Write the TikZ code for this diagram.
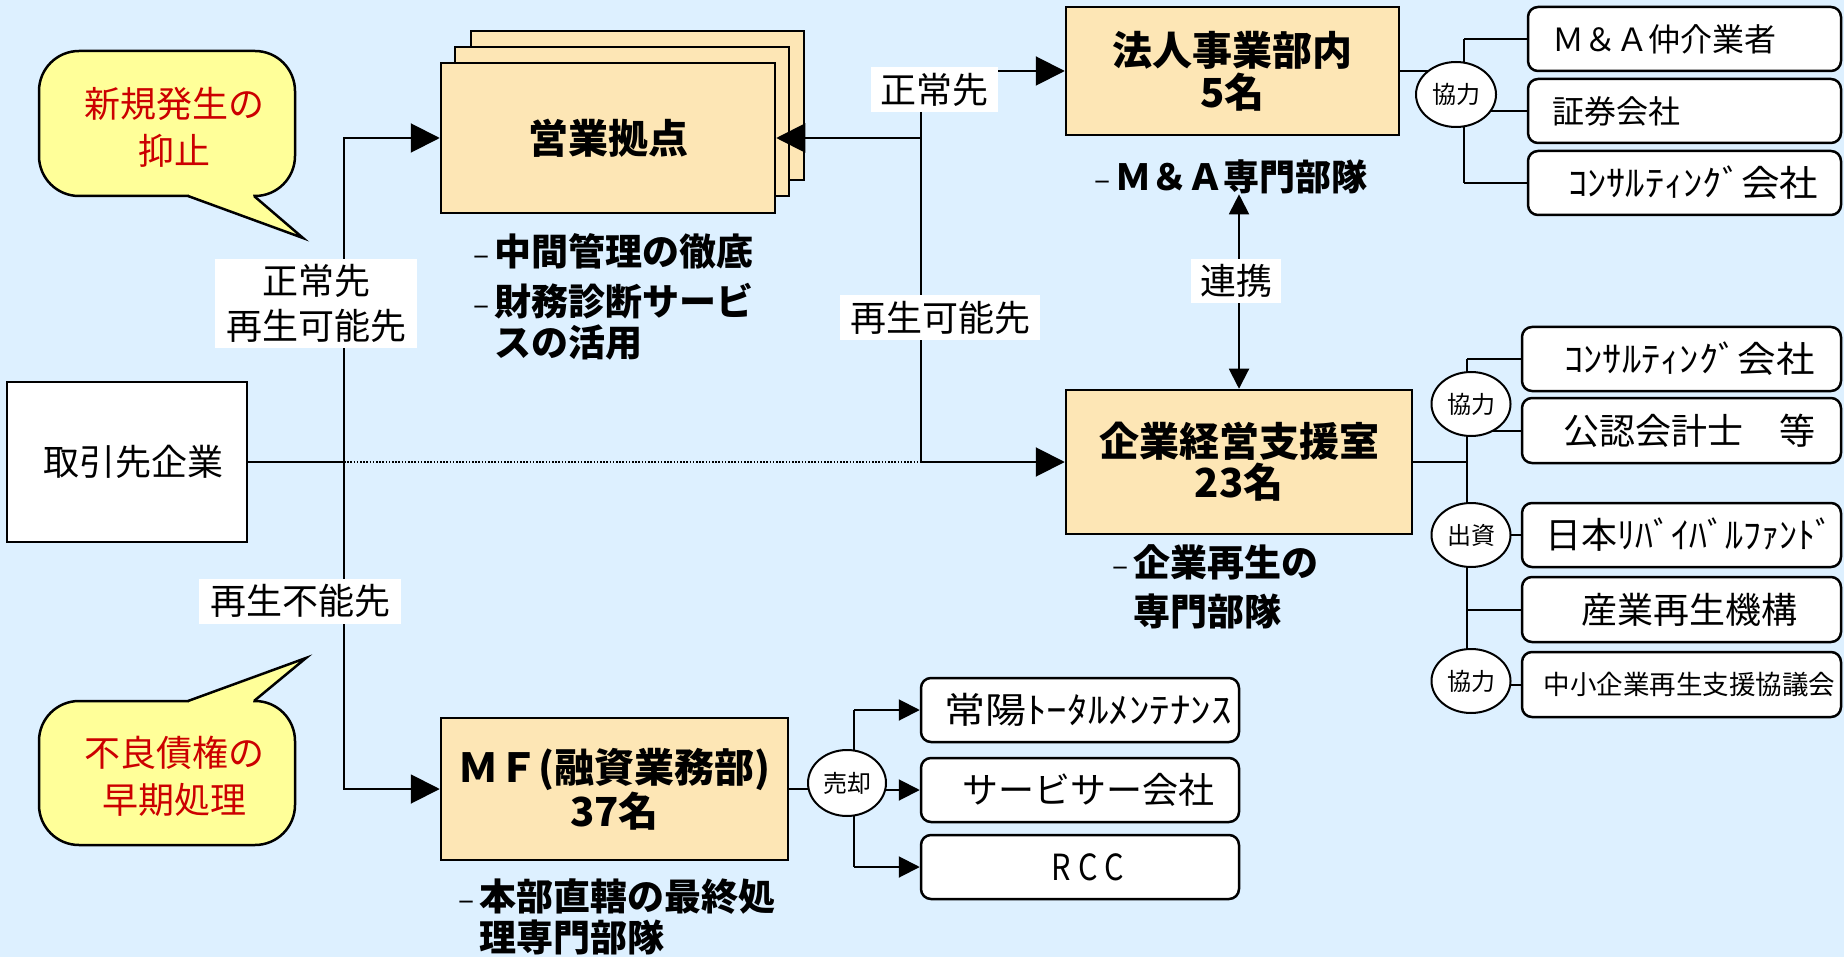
\documentclass[tikz,border=0pt]{standalone}
\usepackage{fontspec}
\usepackage{graphicx}
\setmainfont{Noto Sans CJK JP}[BoldFont={Noto Sans CJK JP Black}]
\usetikzlibrary{arrows.meta,shapes.geometric}
\pgfdeclarelayer{background}
\pgfdeclarelayer{lines}
\pgfsetlayers{background,lines,main}
\definecolor{bgblue}{RGB}{221,240,255}
\definecolor{peach}{RGB}{253,230,181}
\definecolor{callyel}{RGB}{255,255,153}
\definecolor{callred}{RGB}{204,0,0}
\newcommand\fsz[2]{\fontsize{#1}{#2}\selectfont}
\newcommand\notedash{\makebox[21pt][l]{\fontsize{30}{30}\selectfont\mdseries –}}
\newcommand\sx[2]{\scalebox{#1}[1]{#2}}
\newcommand\pre{\hspace*{16pt}}
\begin{document}
\begin{tikzpicture}[x=1pt,y=-1pt,
  conn/.style={line width=2pt, draw=black},
  bigtip/.style={-{Triangle[length=29pt,width=29pt]}},
  midtip/.style={-{Triangle[length=21pt,width=21pt]}},
  duotip/.style={{Triangle[length=20pt,width=20pt]}-{Triangle[length=20pt,width=20pt]}},
  dotline/.style={line width=1.8pt, dash pattern=on 1.6pt off 1.6pt},
  unitbox/.style={draw=black, line width=2.5pt, fill=peach, inner sep=0pt, align=center, font=\fsz{40}{42}\bfseries},
  plainbox/.style={draw=black, line width=2.5pt, fill=white, inner sep=0pt, font=\fsz{36}{40}},
  partner/.style={draw=black, line width=2.5pt, fill=white, rounded corners=10pt, inner sep=0pt, minimum height=64pt, align=center, font=\fsz{36}{40}},
  relel/.style={ellipse, draw=black, line width=2pt, fill=white, inner sep=0pt, font=\fsz{24}{26}},
  lbl/.style={fill=white, inner sep=0pt, align=center, font=\fsz{36}{45}},
  note/.style={inner sep=0pt, align=left, anchor=north west, font=\fsz{37}{41}\bfseries},
  callbox/.style={draw=black, line width=2.5pt, fill=callyel, rounded corners=40pt, inner sep=0pt, align=center, text=callred, font=\fsz{36}{47}},
  pointer/.style={draw=black, line width=2.5pt, line join=miter}
]
\useasboundingbox (0,0) rectangle (1844,957);
\begin{pgfonlayer}{background}
  \fill[bgblue] (0,0) rectangle (1844,957);
\end{pgfonlayer}

% ---- callouts
\node[callbox, minimum width=256pt, minimum height=145pt] (call1) at (167,123.5) {\rule{0pt}{38pt}\hspace*{14pt}新規発生の\\\hspace*{14pt}抑止};
\fill[callyel] (189,194) rectangle (253,197.3);
\fill[callyel] (188,196) -- (303,238) -- (254,196) -- cycle;
\draw[pointer] (188,196) -- (303,238) -- (254,196);

\node[callbox, minimum width=256pt, minimum height=144pt] (call2) at (167,773) {\rule{0pt}{38pt}\hspace*{14pt}不良債権の\\\hspace*{14pt}早期処理};
\fill[callyel] (189,699.7) rectangle (253,703);
\fill[callyel] (188,701) -- (306,658) -- (254,701) -- cycle;
\draw[pointer] (188,701) -- (306,658) -- (254,701);

% ---- main boxes
\node[plainbox, minimum width=240pt, minimum height=160pt] (tori) at (127,462) {\hspace*{12pt}取引先企業};

\node[unitbox, minimum width=333pt, minimum height=149pt] (eback) at (637.5,105.5) {};
\node[unitbox, minimum width=334pt, minimum height=149pt] (emid) at (622,121.5) {};
\node[unitbox, minimum width=334pt, minimum height=150pt] (eigyo) at (608,138) {営業拠点};

\node[unitbox, minimum width=333pt, minimum height=128pt] (houjin) at (1232.5,71) {法人事業部内\\5名};
\node[unitbox, minimum width=346pt, minimum height=144pt, font=\fsz{40}{41}\bfseries] (kigyo) at (1239,462) {企業経営支援室\\23名};
\node[unitbox, minimum width=347pt, minimum height=142pt, font=\fsz{40}{44}\bfseries] (mf) at (614.5,789) {ＭＦ(融資業務部)\\37名};

% ---- notes
\node[note] (enote) at (473,233.4) {\notedash 中間管理の徹底\\[9pt]\notedash 財務診断サービ\\\hspace*{21pt}スの活用};
\node[inner sep=0pt, anchor=west, font=\fsz{36}{40}\bfseries] (manote) at (1094,177) {\notedash Ｍ＆Ａ専門部隊};
\node[note, font=\fsz{37}{49}\bfseries] (knote) at (1112,544.4) {\notedash 企業再生の\\\hspace*{21pt}専門部隊};
\node[note] (mnote) at (458,878.4) {\notedash 本部直轄の最終処\\\hspace*{21pt}理専門部隊};

% ---- partner boxes, top group
\node[partner, minimum width=313pt, text width=265pt, align=left, font=\fsz{32}{36}] (ma) at (1684.5,39) {Ｍ＆Ａ仲介業者};
\node[partner, minimum width=313pt, text width=265pt, align=left, font=\fsz{32}{36}] (shoken) at (1684.5,111) {証券会社};
\node[partner, minimum width=313pt, text width=233pt, align=left] (con1) at (1684.5,183) {\sx{1.07}{ｺﾝｻﾙﾃｨﾝｸﾞ会社}};

% ---- partner boxes, middle group
\node[partner, minimum width=319pt] (con2) at (1681.5,359) {\pre\sx{1.07}{ｺﾝｻﾙﾃｨﾝｸﾞ会社}};
\node[partner, minimum width=319pt, minimum height=65pt] (kounin) at (1681.5,430.5) {\pre 公認会計士　等};
\node[partner, minimum width=319pt] (nihon) at (1681.5,535) {\pre 日本ﾘﾊﾞｲﾊﾞﾙﾌｧﾝﾄﾞ};
\node[partner, minimum width=319pt, minimum height=65pt] (sangyo) at (1681.5,609.5) {\pre 産業再生機構};
\node[partner, minimum width=319pt, minimum height=65pt, font=\fsz{26.5}{30}] (chusho) at (1681.5,684.5) {\pre 中小企業再生支援協議会};

% ---- partner boxes, bottom group
\node[partner, minimum width=318pt] (jouyou) at (1080,710) {\pre\sx{1.14}{常陽ﾄｰﾀﾙﾒﾝﾃﾅﾝｽ}};
\node[partner, minimum width=318pt] (servicer) at (1080,790) {\pre サービサー会社};
\node[partner, minimum width=318pt] (rcc) at (1080,867) {\pre\sx{0.85}{R C C}};

% ---- relation ellipses
\node[relel, minimum width=80pt, minimum height=65pt] (k1) at (1456,94.5) {協力};
\node[relel, minimum width=79pt, minimum height=64pt] (k2) at (1471,404) {協力};
\node[relel, minimum width=79pt, minimum height=64pt] (shusshi) at (1471,535) {出資};
\node[relel, minimum width=79pt, minimum height=64pt] (k3) at (1471,681) {協力};
\node[relel, minimum width=78pt, minimum height=66pt] (baikyaku) at (847,783) {売却};

% ---- junction coordinates
\coordinate (jL) at (344,462);
\coordinate (jR) at (921,462);
\coordinate (t1top) at (1464,39);
\coordinate (t1bot) at (1464,183);
\coordinate (t2top) at (1467,359);
\coordinate (t2bot) at (1467,684.5);
\coordinate (t3top) at (854,710);
\coordinate (t3bot) at (854,867);

% ---- connectors
\begin{pgfonlayer}{lines}
  \draw[conn] (tori.east) -- (jL);
  \draw[dotline] (jL) -- (jR);
  \draw[conn, bigtip] (jR) -- (kigyo.west);
  \draw[conn, bigtip] (jL) |- (eigyo.west);
  \draw[conn, bigtip] (jL) |- (mf.west);
  \draw[conn, bigtip] (jR) |- (houjin.west);
  \draw[conn, duotip] (kigyo.north) -- (kigyo.north |- manote.south);
  % top group
  \draw[conn] (houjin.east) -- (houjin.east -| t1top);
  \draw[conn] (t1top) -- (t1bot);
  \draw[conn] (t1top) -- (ma.west);
  \draw[conn] (shoken.west -| t1top) -- (shoken.west);
  \draw[conn] (t1bot) -- (con1.west);
  % middle group
  \draw[conn] (kigyo.east) -- (kigyo.east -| t2top);
  \draw[conn] (t2top) -- (t2bot);
  \draw[conn] (t2top) -- (con2.west);
  \draw[conn] (kounin.west -| t2top) -- (kounin.west);
  \draw[conn] (nihon.west -| t2top) -- (nihon.west);
  \draw[conn] (sangyo.west -| t2top) -- (sangyo.west);
  \draw[conn] (t2bot) -- (chusho.west);
  % bottom group
  \draw[conn] (mf.east) -- (mf.east -| t3top);
  \draw[conn] (t3top) -- (t3bot);
  \draw[conn, midtip] (t3top) -- (jouyou.west);
  \draw[conn, midtip] (servicer.west -| t3top) -- (servicer.west);
  \draw[conn, midtip] (t3bot) -- (rcc.west);
\end{pgfonlayer}

% arrow into the stacked boxes from the right (drawn over them)
\draw[conn, bigtip] (jR) |- (eigyo.east);

% ---- labels on lines
\node[lbl, minimum width=202pt, minimum height=89pt] (lab1) at (316,303.5) {正常先\\再生可能先};
\node[lbl, minimum width=202pt, minimum height=45pt] (lab2) at (300,601) {再生不能先};
\node[lbl, minimum width=127pt, minimum height=45pt] (lab3) at (934.5,89.5) {正常先};
\node[lbl, minimum width=200pt, minimum height=45pt] (lab4) at (940,317.5) {再生可能先};
\node[lbl, minimum width=90pt, minimum height=44pt] (lab5) at (1236,281) {連携};
\end{tikzpicture}
\end{document}
